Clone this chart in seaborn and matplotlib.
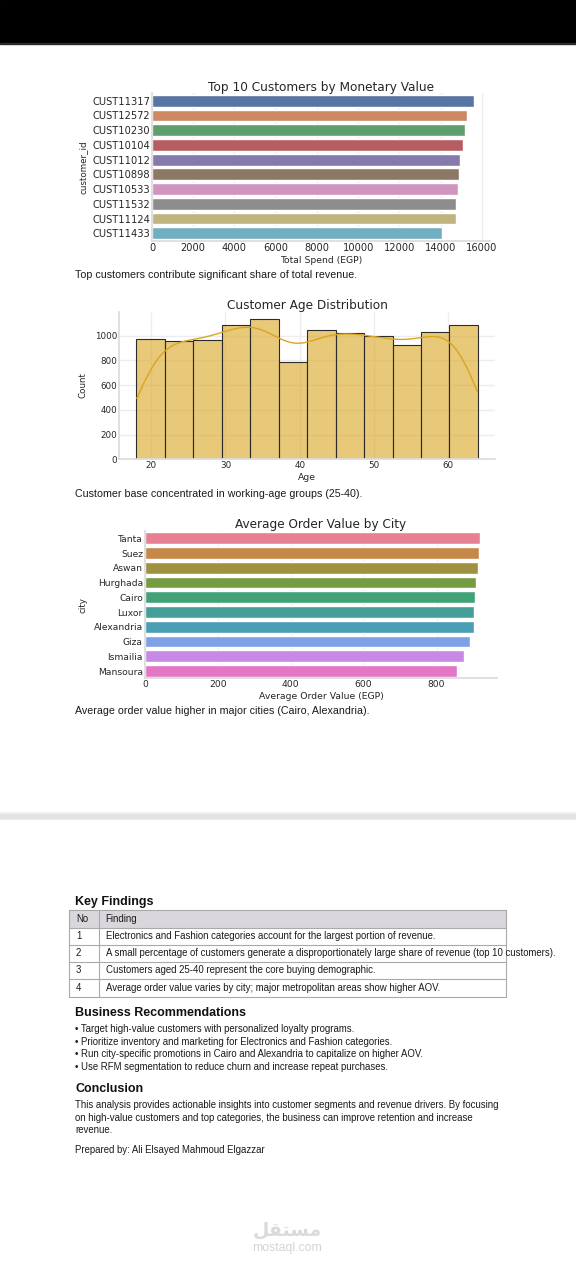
import numpy as np
import pandas as pd
import matplotlib
matplotlib.use("Agg")
import matplotlib.pyplot as plt
import seaborn as sns
from matplotlib.patches import Rectangle

# --- Data ---
customers = ["CUST11317", "CUST12572", "CUST10230", "CUST10104", "CUST11012",
             "CUST10898", "CUST10533", "CUST11532", "CUST11124", "CUST11433"]
total_spend = [15610, 15260, 15190, 15100, 14920, 14870, 14840, 14760, 14720, 14060]

age_min, age_max, n_bins = 18, 64, 12
age_counts = [975, 959, 964, 1084, 1138, 789, 1049, 1021, 997, 924, 1033, 1084]

cities = ["Tanta", "Suez", "Aswan", "Hurghada", "Cairo", "Luxor",
          "Alexandria", "Giza", "Ismailia", "Mansoura"]
avg_order_value = [920, 917, 915, 909, 906, 902, 902, 891, 875, 855]

captions = [
    "Top customers contribute significant share of total revenue.",
    "Customer base concentrated in working-age groups (25-40).",
    "Average order value higher in major cities (Cairo, Alexandria).",
]
findings = [
    "Electronics and Fashion categories account for the largest portion of revenue.",
    "A small percentage of customers generate a disproportionately large share of revenue (top 10 customers).",
    "Customers aged 25-40 represent the core buying demographic.",
    "Average order value varies by city; major metropolitan areas show higher AOV.",
]
recommendations = [
    "Target high-value customers with personalized loyalty programs.",
    "Prioritize inventory and marketing for Electronics and Fashion categories.",
    "Run city-specific promotions in Cairo and Alexandria to capitalize on higher AOV.",
    "Use RFM segmentation to reduce churn and increase repeat purchases.",
]
conclusion_lines = [
    "This analysis provides actionable insights into customer segments and revenue drivers. By focusing",
    "on high-value customers and top categories, the business can improve retention and increase",
    "revenue.",
]
author = "Prepared by: Ali Elsayed Mahmoud Elgazzar"

W, H = 576, 1280
TEXT_FONT = ["Liberation Sans", "DejaVu Sans"]
BODY = 6.9

sns.set_theme(style="whitegrid")
plt.rcParams["font.family"] = ["DejaVu Sans"]
plt.rcParams["axes.edgecolor"] = "#dcdcdc"
plt.rcParams["grid.color"] = "#ededed"
plt.rcParams["text.color"] = "#262626"

fig = plt.figure(figsize=(W / 100, H / 100), dpi=100)
fig.patch.set_facecolor("white")


def px_axes(left, top, right, bottom):
    return fig.add_axes([left / W, 1 - bottom / H, (right - left) / W, (bottom - top) / H], zorder=1)


def style_axes(ax, title, xlabel, ylabel, ylab_x, tick_size):
    ax.set_title(title, fontsize=8.7, pad=2)
    ax.set_xlabel(xlabel, fontsize=6.7, labelpad=2)
    ax.set_ylabel(ylabel, fontsize=6.3)
    ax.yaxis.set_label_coords(ylab_x, 0.5)
    ax.tick_params(labelsize=tick_size, pad=1.5, length=0)
    sns.despine(ax=ax)


# page background: screen bar, separator, report text
bg = fig.add_axes([0, 0, 1, 1], zorder=0)
bg.set_xlim(0, W)
bg.set_ylim(H, 0)
bg.axis("off")
bg.add_patch(Rectangle((0, 0), W, 43, color="black"))
bg.add_patch(Rectangle((0, 43), W, 1.2, color="#2a2a2a"))
bg.add_patch(Rectangle((0, 812), W, 7, color="#f1f1f1"))
bg.add_patch(Rectangle((0, 813.5), W, 4, color="#e3e3e3"))

# --- Chart 1: top customers ---
ax1 = px_axes(152, 93.3, 490, 240.7)
df_top = pd.DataFrame({"customer_id": customers, "total_spend": total_spend})
sns.barplot(data=df_top, x="total_spend", y="customer_id", hue="customer_id",
            palette="deep", legend=False, ax=ax1)
style_axes(ax1, "Top 10 Customers by Monetary Value", "Total Spend (EGP)", "customer_id", -0.19, 7.1)

# --- Chart 2: age distribution ---
ax2 = px_axes(119.3, 311.7, 495, 459.3)
edges = np.linspace(age_min, age_max, n_bins + 1)
df_age = pd.DataFrame({"age": (edges[:-1] + edges[1:]) / 2, "count": age_counts})
sns.histplot(data=df_age, x="age", weights="count", bins=n_bins, binrange=(age_min, age_max),
             kde=True, color="goldenrod", alpha=0.6, edgecolor="#2b2b2b", linewidth=0.8,
             kde_kws={"bw_adjust": 0.37, "cut": 0.6}, line_kws={"linewidth": 1}, ax=ax2)
style_axes(ax2, "Customer Age Distribution", "Age", "Count", -0.084, 6.3)

# --- Chart 3: AOV by city ---
ax3 = px_axes(145, 530.9, 497, 678.4)
df_city = pd.DataFrame({"city": cities, "aov": avg_order_value})
sns.barplot(data=df_city, x="aov", y="city", hue="city", palette="husl", legend=False, ax=ax3)
style_axes(ax3, "Average Order Value by City", "Average Order Value (EGP)", "city", -0.1625, 6.6)

# captions under the charts
for y, txt in zip([275.5, 494, 711.5], captions):
    bg.text(75, y, txt, fontsize=7.7, family=TEXT_FONT, va="center", color="#1a1a1a")

# --- Key findings table ---
bg.text(75, 901.5, "Key Findings", fontsize=9, fontweight="bold", family=TEXT_FONT,
        va="center", color="#111111")
row_lines = [910, 927.7, 944.5, 961.7, 979, 996.5]
t_left, t_right, t_col = 69, 506, 99.3
bg.add_patch(Rectangle((t_left, row_lines[0]), t_right - t_left, row_lines[1] - row_lines[0],
                       facecolor="#d9d7dc", edgecolor="none"))
for y in row_lines:
    bg.plot([t_left, t_right], [y, y], color="#a9a9a9", lw=0.8)
bg.plot([t_left, t_left], [row_lines[0], row_lines[-1]], color="#a9a9a9", lw=0.8)
bg.plot([t_right, t_right], [row_lines[0], row_lines[-1]], color="#a9a9a9", lw=0.8)
bg.plot([t_col, t_col], [row_lines[0], row_lines[-1]], color="#a9a9a9", lw=0.8)
rows = [("No", "Finding")] + [(str(i + 1), f) for i, f in enumerate(findings)]
for i, (no, txt) in enumerate(rows):
    yc = (row_lines[i] + row_lines[i + 1]) / 2
    bg.text(76, yc, no, fontsize=BODY, family=TEXT_FONT, va="center", color="#1a1a1a")
    bg.text(105.5, yc, txt, fontsize=BODY, family=TEXT_FONT, va="center", color="#1a1a1a")

# --- Recommendations ---
bg.text(75, 1013, "Business Recommendations", fontsize=9, fontweight="bold", family=TEXT_FONT,
        va="center", color="#111111")
for y, txt in zip([1029.3, 1042, 1054.3, 1067], recommendations):
    bg.text(75, y, "\u2022 " + txt, fontsize=BODY, family=TEXT_FONT, va="center", color="#1a1a1a")

# --- Conclusion ---
bg.text(75, 1089.3, "Conclusion", fontsize=9, fontweight="bold", family=TEXT_FONT,
        va="center", color="#111111")
for y, txt in zip([1104.7, 1117.7, 1130], conclusion_lines):
    bg.text(75, y, txt, fontsize=BODY, family=TEXT_FONT, va="center", color="#1a1a1a")
bg.text(75, 1150, author, fontsize=BODY, family=TEXT_FONT, va="center", color="#1a1a1a")

# watermark (Arabic in presentation forms, visual order)
bg.text(287, 1230, "\ufede\ufed8\ufe98\ufeb4\ufee3", fontsize=13.5, fontweight="bold",
        family=["DejaVu Sans"], ha="center", va="center", color="#dadada")
bg.text(287, 1248, "mostaql.com", fontsize=8.8, family=TEXT_FONT, ha="center",
        va="center", color="#d4d4d4")

fig.savefig("out.png", dpi=100, facecolor="white")
